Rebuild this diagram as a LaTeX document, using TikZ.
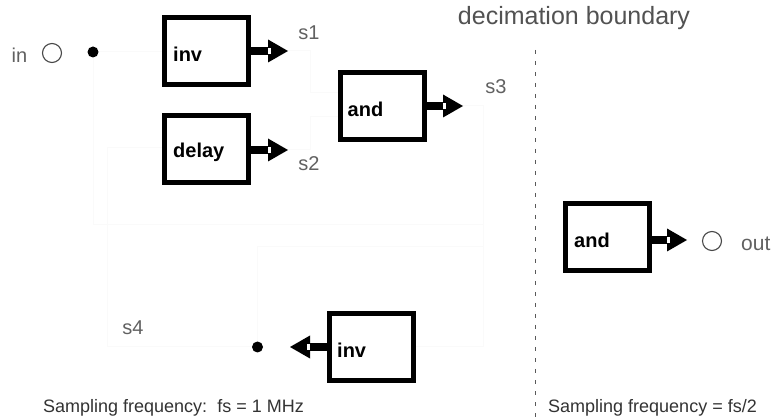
\documentclass[tikz,border=0pt]{standalone}
\usepackage{fontspec}
\setmainfont{Liberation Sans}
\usetikzlibrary{calc}

% thick block-diagram arrow: start point, tip point, direction (1 = right, -1 = left)
\newcommand\fatarrow[3]{%
  \draw[shaft] (#1) -- ($(#2)+({-20*#3},0)$);
  \fill ($(#2)+({-20*#3},-11.5)$) -- (#2) -- ($(#2)+({-20*#3},11.5)$) -- cycle;
  \fill[white] ($(#2)+({-20*#3},-3)$) rectangle ($(#2)+({-17*#3},3)$);
}

\begin{document}
\begin{tikzpicture}[x=1pt,y=-1pt,
  block/.style={draw, line width=5pt, minimum width=84pt, minimum height=67pt, inner sep=0pt},
  blocktext/.style={anchor=west, inner sep=0pt, font=\bfseries\fontsize{20}{20}\selectfont},
  signame/.style={inner sep=0pt, text=black!62, font=\fontsize{20}{20}\selectfont},
  port/.style={circle, draw=black!72, line width=1.1pt, minimum size=19pt, inner sep=0pt},
  junction/.style={circle, fill=black, minimum size=11pt, inner sep=0pt},
  shaft/.style={line width=8pt},
  wire/.style={black!2, line width=1pt},
  boundary/.style={black!65, line width=0.8pt, dash pattern=on 4pt off 7pt},
  caption/.style={anchor=west, inner sep=0pt, text=black!80, font=\fontsize{18}{18}\selectfont}]

\useasboundingbox[fill=white] (0,0) rectangle (776,419);

% faint wiring
\coordinate (w1) at (310,93);
\coordinate (w2) at (310,117);
\coordinate (w3) at (483,106);
\coordinate (w4) at (483,225);
\coordinate (w5) at (107,148);
\coordinate (w6) at (483,247);

% blocks
\node[block] (inv1)  at (206.5,51)  {};
\node[block] (delay) at (206.5,149.5) {};
\node[block] (and1)  at (382,106)   {};
\node[block] (and2)  at (607.5,237.5) {};
\node[block] (inv2)  at (371.5,347) {};

\node[blocktext] (inv1-t)  at ($(inv1.west)+(11,3)$)  {inv};
\node[blocktext] (delay-t) at ($(delay.west)+(11,3)$) {delay};
\node[blocktext] (and1-t)  at ($(and1.west)+(10,3)$)   {and};
\node[blocktext] (and2-t)  at ($(and2.west)+(11,3)$) {and};
\node[blocktext] (inv2-t)  at ($(inv2.west)+(10,3)$)   {inv};

% ports and junctions
\node[signame] (in-t) at (19.5,55) {in};
\node[port] (in) at (52,53) {};
\node[junction] (din) at (93,52) {};
\node[junction] (d4) at (257.5,347) {};
\node[port] (out) at (712,241) {};
\node[signame, anchor=west, font=\fontsize{21}{21}\selectfont] (out-t) at (741,244) {out};

% arrow tips
\coordinate (t1) at (288,51);
\coordinate (t2) at (288,150);
\coordinate (t3) at (463,106);
\coordinate (t4) at (290,347);
\coordinate (t5) at (687,240);

% faint connections
\draw[wire] (din) -- (din -| inv1.west);
\draw[wire] (din) |- (w4) -- (w3) -- (t3);
\draw[wire] (t1) -| (w1) -- (w1 -| and1.west);
\draw[wire] (t2) -| (w2) -- (w2 -| and1.west);
\draw[wire] (w3) |- (inv2.east);
\draw[wire] (w5) -- (w5 -| delay.west);
\draw[wire] (w5) |- (d4);
\draw[wire] (d4) |- (w6);

% thick arrows
\fatarrow{t1 -| inv1.east}{t1}{1}
\fatarrow{t2 -| delay.east}{t2}{1}
\fatarrow{t3 -| and1.east}{t3}{1}
\fatarrow{t5 -| and2.east}{t5}{1}
\fatarrow{t4 -| inv2.west}{t4}{-1}

% signal names
\node[signame] (s1) at (309,33)  {s1};
\node[signame] (s2) at (309,164) {s2};
\node[signame] (s3) at (496,87)  {s3};
\node[signame] (s4) at (133,328) {s4};

% decimation boundary
\node[inner sep=0pt, text=black!68, font=\fontsize{25}{25}\selectfont] (dec) at (574,18) {decimation boundary};
\coordinate (b-top) at (535,50);
\coordinate (b-bot) at (535,419);
\draw[boundary] (b-top) -- (b-bot);

% sampling rates
\node[caption] (fs1) at (43,408) {Sampling frequency:\ \ fs = 1 MHz};
\node[caption] (fs2) at (548,408) {Sampling frequency = fs/2};

\end{tikzpicture}
\end{document}
